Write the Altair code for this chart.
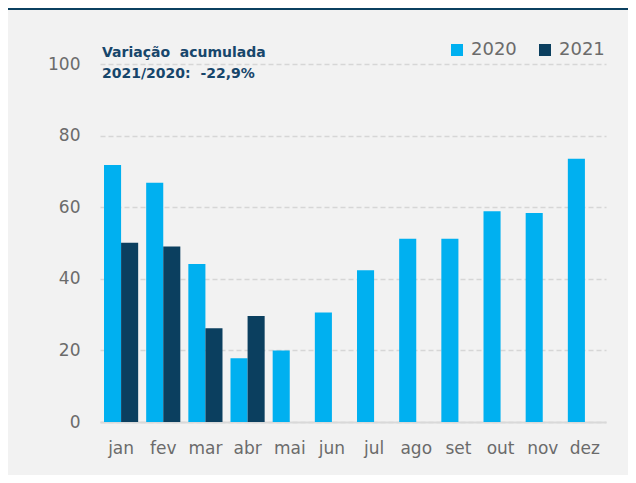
import altair as alt
import pandas as pd

months = ["jan", "fev", "mar", "abr", "mai", "jun", "jul", "ago", "set", "out", "nov", "dez"]
v2020 = [71.8, 66.8, 44.1, 17.8, 20.0, 30.6, 42.4, 51.2, 51.2, 58.9, 58.4, 73.5]
v2021 = [50.1, 49.0, 26.2, 29.6]
series = ["2020", "2021"]
colors = ["#00B0F0", "#0B3F5F"]
y_ticks = [0, 20, 40, 60, 80, 100]
note_lines = ["Variação\u00a0 acumulada", "2021/2020:\u00a0 -22,9%"]

rows = []
for m, v in zip(months, v2020):
    rows.append({"mes": m, "ano": "2020", "valor": v})
for m, v in zip(months, v2021):
    rows.append({"mes": m, "ano": "2021", "valor": v})
df = pd.DataFrame(rows)

label_color = "#6b6b6b"
font = "DejaVu Sans"

bars = alt.Chart(df).mark_bar().encode(
    x=alt.X("mes:N", sort=months,
            scale=alt.Scale(paddingInner=0.19, paddingOuter=0.095),
            axis=alt.Axis(title=None, labelAngle=0, ticks=False, labelPadding=18,
                          labelFontSize=17, labelColor=label_color, labelFont=font,
                          domainColor="#d9d9d9", domainWidth=2, grid=False)),
    xOffset=alt.XOffset("ano:N", sort=series, scale=alt.Scale(paddingInner=0, paddingOuter=0)),
    y=alt.Y("valor:Q", scale=alt.Scale(domain=[0, 100], nice=False),
            axis=alt.Axis(title=None, values=y_ticks, ticks=False, domain=False,
                          labelPadding=20, labelFontSize=17, labelColor=label_color,
                          labelFont=font, grid=True, gridColor="#d6d6d6",
                          gridDash=[5, 3], gridWidth=1.3)),
    color=alt.Color("ano:N", sort=series,
                    scale=alt.Scale(domain=series, range=colors),
                    legend=alt.Legend(title=None, orient="none", legendX=348, legendY=-23,
                                      direction="horizontal", symbolType="square",
                                      symbolSize=144, symbolStrokeWidth=0,
                                      labelFontSize=18, labelColor=label_color,
                                      labelFont=font, labelOffset=5, columnPadding=19)),
)

note_df = pd.DataFrame({"linha": note_lines})


def note_line(i, ypos):
    return alt.Chart(note_df.iloc[[i]]).mark_text(
        align="left", baseline="alphabetic", fontSize=14, fontWeight="bold",
        font=font, color="#17466B"
    ).encode(x=alt.value(2), y=alt.value(ypos), text="linha:N")


band = alt.Chart(note_df.head(1)).mark_rule(color="#0B4060", strokeWidth=3).encode(
    x=alt.value(-92), x2=alt.value(528), y=alt.value(-55.5)
)

chart = alt.layer(bars, note_line(0, -7), note_line(1, 14), band).properties(
    width=506, height=358,
    padding={"left": 92, "top": 56, "right": 22, "bottom": 53},
    autosize=alt.AutoSizeParams(type="none"),
    background="#f2f2f2",
).configure_view(stroke=None)

chart.save("out.html", embed_options={"renderer": "svg", "actions": False})
